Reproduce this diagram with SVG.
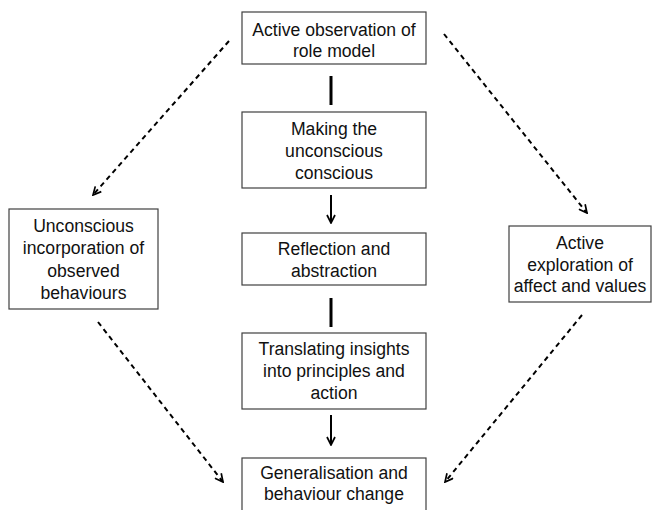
<svg xmlns="http://www.w3.org/2000/svg" width="652" height="510" viewBox="0 0 652 510">
<style>
.box{fill:#fff;stroke:#404040;stroke-width:1.2}
text{font-family:"Liberation Sans",Arial,sans-serif;font-size:17.6px;fill:#111;text-anchor:middle}
.solid{stroke:#000;stroke-width:3;fill:none}
.arr{stroke:#000;stroke-width:2;fill:none}
.dash{stroke:#000;stroke-width:2;fill:none;stroke-dasharray:5 4}
</style>
<defs>
<marker id="ah" viewBox="0 0 10 10" refX="9" refY="5" markerWidth="10" markerHeight="10" markerUnits="userSpaceOnUse" orient="auto">
<path d="M1,1 L9,5 L1,9" fill="none" stroke="#000" stroke-width="1.7"/>
</marker>
</defs>
<rect width="652" height="510" fill="#fff"/>
<g id="connectors">
<line class="solid" x1="331" y1="76" x2="331" y2="105"/>
<line class="arr" x1="331" y1="195" x2="331" y2="223" marker-end="url(#ah)"/>
<line class="solid" x1="331" y1="298" x2="331" y2="327"/>
<line class="arr" x1="331" y1="415" x2="331" y2="445" marker-end="url(#ah)"/>
<line class="dash" x1="229" y1="41" x2="93" y2="195" marker-end="url(#ah)"/>
<line class="dash" x1="444" y1="34" x2="587" y2="213" marker-end="url(#ah)"/>
<line class="dash" x1="98" y1="322" x2="223" y2="482" marker-end="url(#ah)"/>
<line class="dash" x1="582" y1="315" x2="445" y2="482" marker-end="url(#ah)"/>
</g>
<g id="n1">
<rect class="box" x="242" y="12" width="184" height="52"/>
<text x="334" y="36">Active observation of</text>
<text x="334" y="57">role model</text>
</g>
<g id="n2">
<rect class="box" x="242" y="112" width="184" height="76"/>
<text x="334" y="135">Making the</text>
<text x="334" y="157">unconscious</text>
<text x="334" y="179">conscious</text>
</g>
<g id="n3">
<rect class="box" x="242" y="233" width="184" height="52"/>
<text x="334" y="255">Reflection and</text>
<text x="334" y="277">abstraction</text>
</g>
<g id="n4">
<rect class="box" x="242" y="333" width="184" height="76"/>
<text x="334" y="355">Translating insights</text>
<text x="334" y="377">into principles and</text>
<text x="334" y="399">action</text>
</g>
<g id="n5">
<rect class="box" x="242" y="458" width="184" height="70"/>
<text x="334" y="479">Generalisation and</text>
<text x="334" y="500">behaviour change</text>
</g>
<g id="n6">
<rect class="box" x="9" y="209" width="149" height="100"/>
<text x="83.5" y="232">Unconscious</text>
<text x="83.5" y="254">incorporation of</text>
<text x="83.5" y="277">observed</text>
<text x="83.5" y="299">behaviours</text>
</g>
<g id="n7">
<rect class="box" x="509" y="226" width="142" height="76"/>
<text x="580" y="249">Active</text>
<text x="580" y="271">exploration of</text>
<text x="580" y="292">affect and values</text>
</g>
</svg>
